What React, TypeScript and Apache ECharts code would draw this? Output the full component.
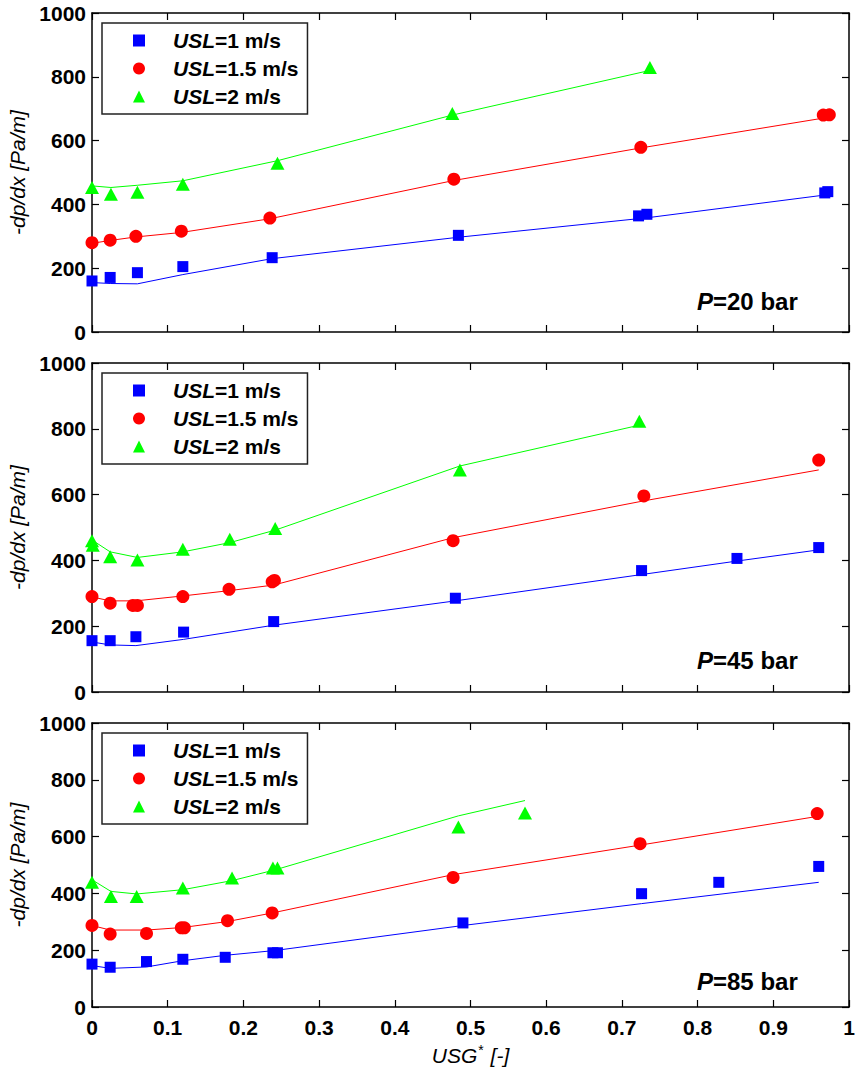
import React, { useEffect, useRef } from "react";
import * as echarts from "echarts";

const FONT = "'Liberation Sans', Arial, sans-serif";

const legendNames = ["USL=1 m/s", "USL=1.5 m/s", "USL=2 m/s"];
const pressureLabels = ["20", "45", "85"];
const xTicks = { min: 0, max: 1, interval: 0.1 };
const yTicks = { min: 0, max: 1000, interval: 200 };

// Panel 1: P = 20 bar
const blue1X = [0, 0.024, 0.06, 0.12, 0.238, 0.484, 0.722, 0.733, 0.968, 0.972];
const blue1Y = [160, 171, 186, 205, 233, 303, 364, 369, 436, 440];
const blue1LineX = [0, 0.024, 0.06, 0.12, 0.238, 0.484, 0.733, 0.97];
const blue1LineY = [155, 152, 151, 180, 230, 297, 358, 430];
const red1X = [0, 0.024, 0.058, 0.118, 0.235, 0.478, 0.725, 0.966, 0.974];
const red1Y = [280, 288, 300, 316, 357, 479, 579, 680, 681];
const red1LineX = [0, 0.024, 0.058, 0.118, 0.235, 0.478, 0.725, 0.97];
const red1LineY = [278, 287, 298, 312, 355, 475, 577, 672];
const green1X = [0, 0.025, 0.06, 0.12, 0.245, 0.476, 0.737];
const green1Y = [453, 432, 438, 463, 529, 685, 829];
const green1LineX = [0, 0.025, 0.06, 0.12, 0.245, 0.476, 0.737];
const green1LineY = [458, 453, 460, 474, 537, 680, 820];

// Panel 2: P = 45 bar
const blue2X = [0, 0.024, 0.058, 0.121, 0.24, 0.48, 0.726, 0.852, 0.96];
const blue2Y = [156, 156, 168, 182, 214, 285, 369, 406, 439];
const blue2LineX = [0, 0.024, 0.058, 0.121, 0.24, 0.48, 0.726, 0.852, 0.96];
const blue2LineY = [152, 143, 141, 160, 203, 277, 357, 398, 432];
const red2X = [0, 0.024, 0.054, 0.06, 0.12, 0.181, 0.238, 0.241, 0.477, 0.729, 0.96];
const red2Y = [290, 270, 263, 263, 290, 312, 335, 339, 460, 596, 705];
const red2LineX = [0, 0.024, 0.058, 0.12, 0.181, 0.24, 0.477, 0.729, 0.96];
const red2LineY = [289, 277, 277, 292, 308, 325, 469, 581, 675];
const green2X = [0, 0.001, 0.024, 0.06, 0.12, 0.182, 0.242, 0.486, 0.723];
const green2Y = [460, 446, 411, 401, 434, 464, 497, 675, 823];
const green2LineX = [0, 0.024, 0.06, 0.12, 0.182, 0.242, 0.486, 0.723];
const green2LineY = [462, 426, 409, 426, 454, 492, 687, 811];

// Panel 3: P = 85 bar
const blue3X = [0, 0.024, 0.072, 0.12, 0.176, 0.239, 0.245, 0.49, 0.726, 0.828, 0.96];
const blue3Y = [151, 140, 160, 168, 175, 191, 191, 296, 399, 439, 495];
const blue3LineX = [0, 0.024, 0.072, 0.12, 0.176, 0.242, 0.49, 0.726, 0.96];
const blue3LineY = [146, 136, 141, 163, 182, 199, 287, 364, 439];
const red3X = [0, 0.024, 0.072, 0.118, 0.122, 0.179, 0.238, 0.477, 0.724, 0.958];
const red3Y = [287, 257, 259, 279, 279, 304, 331, 456, 575, 681];
const red3LineX = [0, 0.024, 0.072, 0.12, 0.179, 0.238, 0.477, 0.724, 0.958];
const red3LineY = [287, 271, 271, 280, 301, 331, 466, 570, 671];
const green3X = [0, 0.025, 0.059, 0.12, 0.185, 0.239, 0.245, 0.484, 0.572];
const green3Y = [439, 389, 389, 419, 454, 489, 489, 634, 683];
const green3LineX = [0, 0.025, 0.059, 0.12, 0.185, 0.242, 0.484, 0.572];
const green3LineY = [448, 407, 398, 413, 445, 483, 673, 727];

const panels = [
  {
    blue: [blue1X, blue1Y], blueLine: [blue1LineX, blue1LineY],
    red: [red1X, red1Y], redLine: [red1LineX, red1LineY],
    green: [green1X, green1Y], greenLine: [green1LineX, green1LineY],
  },
  {
    blue: [blue2X, blue2Y], blueLine: [blue2LineX, blue2LineY],
    red: [red2X, red2Y], redLine: [red2LineX, red2LineY],
    green: [green2X, green2Y], greenLine: [green2LineX, green2LineY],
  },
  {
    blue: [blue3X, blue3Y], blueLine: [blue3LineX, blue3LineY],
    red: [red3X, red3Y], redLine: [red3LineX, red3LineY],
    green: [green3X, green3Y], greenLine: [green3LineX, green3LineY],
  },
];

const zip = (xs: number[], ys: number[]) => xs.map((x, i) => [x, ys[i]]);

export default function App() {
  const ref = useRef<HTMLDivElement>(null);
  useEffect(() => {
    if (!ref.current) return;
    const chart = echarts.init(ref.current, null, { renderer: "svg" });

    const gridTops = [13, 363, 723];
    const gridHeights = [319, 329, 284];
    const grids = gridTops.map((t, i) => ({
      left: 92, top: t, width: 757, height: gridHeights[i],
      containLabel: false, outerBoundsMode: "none",
    }));

    const axisLine = { show: true, onZero: false, lineStyle: { color: "#000", width: 1.5 } };
    const axisTick = { show: true, inside: true, length: 7, lineStyle: { color: "#000", width: 1.2 } };
    const labelFont = { fontFamily: FONT, fontSize: 21, fontWeight: "bold" as const, color: "#000" };

    const xAxes: any[] = [];
    const yAxes: any[] = [];
    grids.forEach((_, i) => {
      xAxes.push({
        type: "value", gridIndex: i, position: "bottom", ...xTicks,
        axisLine, axisTick, splitLine: { show: false },
        axisLabel: { show: i === 2, margin: 10, ...labelFont, formatter: (v: number) => String(Math.round(v * 10) / 10) },
        name: i === 2 ? "{i|USG}{s|*}{i| [-]}" : "",
        nameLocation: "middle", nameGap: 36,
        nameTextStyle: {
          rich: {
            i: { fontFamily: FONT, fontSize: 21, fontStyle: "italic", color: "#000" },
            s: { fontFamily: FONT, fontSize: 14, color: "#000", padding: [0, 1, 10, 1] },
          },
        },
      });
      xAxes.push({
        type: "value", gridIndex: i, position: "top", ...xTicks,
        axisLine, axisTick, splitLine: { show: false }, axisLabel: { show: false },
      });
      yAxes.push({
        type: "value", gridIndex: i, position: "left", ...yTicks,
        axisLine, axisTick, splitLine: { show: false },
        axisLabel: { show: true, margin: 6, ...labelFont, formatter: (v: number) => String(v) },
        name: "-dp/dx [Pa/m]", nameLocation: "middle", nameGap: 60, nameRotate: 90,
        nameTextStyle: { fontFamily: FONT, fontSize: 21, fontStyle: "italic", color: "#000" },
      });
      yAxes.push({
        type: "value", gridIndex: i, position: "right", ...yTicks,
        axisLine, axisTick, splitLine: { show: false }, axisLabel: { show: false },
      });
    });

    const series: any[] = [];
    const defs = [
      { key: "blue", color: "#0000ff", symbol: "rect", size: 11 },
      { key: "red", color: "#ff0000", symbol: "circle", size: 13 },
      { key: "green", color: "#00ff00", symbol: "triangle", size: [14, 13] },
    ];
    panels.forEach((p: any, i) => {
      defs.forEach((d, k) => {
        series.push({
          type: "line", name: legendNames[k] + " model", xAxisIndex: 2 * i, yAxisIndex: 2 * i,
          data: zip(p[d.key + "Line"][0], p[d.key + "Line"][1]),
          showSymbol: false, symbol: "none", lineStyle: { color: d.color, width: 1 },
          itemStyle: { color: d.color }, z: 2, silent: true,
        });
      });
      defs.forEach((d, k) => {
        series.push({
          type: "scatter", name: legendNames[k], xAxisIndex: 2 * i, yAxisIndex: 2 * i,
          data: zip(p[d.key][0], p[d.key][1]),
          symbol: d.symbol, symbolSize: d.size, itemStyle: { color: d.color, opacity: 1 }, z: 3,
        });
      });
    });

    const legends = gridTops.map((t) => ({
      orient: "vertical", left: 102, top: t + 10,
      padding: [7, 9, 7, 31],
      itemWidth: 12, itemHeight: 12, itemGap: 7,
      borderColor: "#222", borderWidth: 1.5, backgroundColor: "#fff",
      selectedMode: false,
      data: [
        { name: legendNames[0], icon: "rect" },
        { name: legendNames[1], icon: "circle" },
        { name: legendNames[2], icon: "triangle" },
      ],
      formatter: (name: string) => "{s| }{i|USL}{b|" + name.slice(3) + "}",
      textStyle: {
        fontFamily: FONT, fontSize: 21, fontWeight: "bold", color: "#000", lineHeight: 20,
        rich: {
          s: { width: 23, fontSize: 21, lineHeight: 20 },
          i: { fontFamily: FONT, fontSize: 21, fontWeight: "bold", fontStyle: "italic", color: "#000", lineHeight: 20 },
          b: { fontFamily: FONT, fontSize: 21, fontWeight: "bold", color: "#000", lineHeight: 20 },
        },
      },
    }));

    const pCenters = [301, 660, 981];
    const graphic = pCenters.map((cy, i) => ({
      type: "text", x: 697, y: cy, z: 10,
      style: {
        text: "{i|P}{b|=" + pressureLabels[i] + " bar}",
        verticalAlign: "middle",
        rich: {
          i: { fontFamily: FONT, fontSize: 24, fontWeight: "bold", fontStyle: "italic", fill: "#000" },
          b: { fontFamily: FONT, fontSize: 24, fontWeight: "bold", fill: "#000" },
        },
      },
    }));

    chart.setOption({
      animation: false,
      backgroundColor: "#fff",
      grid: grids,
      xAxis: xAxes,
      yAxis: yAxes,
      legend: legends,
      series,
      graphic,
    });
    return () => chart.dispose();
  }, []);

  return (
    <div
      ref={ref}
      style={{ position: "absolute", left: 0, top: 0, width: 855, height: 1074, background: "#fff" }}
    />
  );
}
